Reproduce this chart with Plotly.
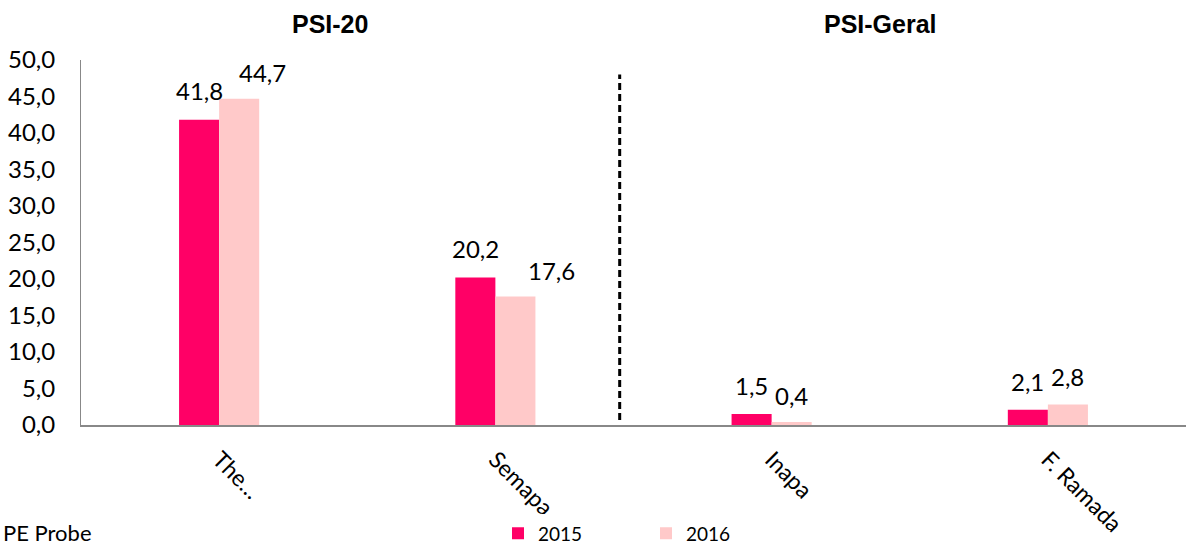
import plotly.graph_objects as go

categories = ["The…", "Semapa", "Inapa", "F. Ramada"]
values_2015 = [41.8, 20.2, 1.5, 2.1]
values_2016 = [44.7, 17.6, 0.4, 2.8]
series_names = ["2015", "2016"]
group_titles = ["PSI-20", "PSI-Geral"]
source_text = "PE Probe"

colors = ["#FF0066", "#FFC9C9"]
label_xshift = {"2015": [0, 0, 0, 0], "2016": [23, 36, 0, 0]}
label_yshift = {"2015": [13, 13, 12, 12], "2016": [10, 10, 10, 12]}

fig = go.Figure()
for name, vals, col in zip(series_names, [values_2015, values_2016], colors):
    fig.add_trace(go.Bar(x=categories, y=vals, name=name, marker_color=col,
                         marker_line_width=0, offsetgroup=name))

font_main = "Lato, Calibri, Carlito, sans-serif"
W, H = 1189, 548
L, R, T, B = 81, 3, 60, 123
PW = W - L - R

annotations = []
for idx, (name, vals) in enumerate(zip(series_names, [values_2015, values_2016])):
    off = -0.0725 if idx == 0 else 0.0725
    for i, v in enumerate(vals):
        annotations.append(dict(
            x=i + off, y=v, xref="x", yref="y", text=f"{v:.1f}".replace(".", ","),
            showarrow=False, yanchor="bottom", xshift=label_xshift[name][i],
            yshift=label_yshift[name][i], font=dict(size=24, color="#000", family=font_main)))

for title, px in zip(group_titles, [330, 880]):
    annotations.append(dict(x=(px - L) / PW, y=1.0, xref="paper", yref="paper", yshift=36,
                            xanchor="center", yanchor="middle", text="<b>" + title + "</b>",
                            showarrow=False,
                            font=dict(size=25, family="Liberation Sans, Arial", color="#000")))
annotations.append(dict(x=(1 - L) / PW, y=0, xref="paper", yref="paper", yshift=-107,
                        yanchor="middle", text=source_text, xanchor="left", showarrow=False,
                        font=dict(size=22, family=font_main, color="#000")))

fig.update_layout(
    width=W, height=H,
    margin=dict(l=L, r=R, t=T, b=B, autoexpand=False),
    plot_bgcolor="white", paper_bgcolor="white",
    separators=",.",
    barmode="group", bargap=0.71, bargroupgap=0,
    font=dict(family=font_main, size=24, color="#000"),
    xaxis=dict(showline=True, linecolor="#888", linewidth=2, tickangle=45, ticks="",
               tickfont=dict(size=23), showgrid=False, automargin=False, ticklabelstandoff=10),
    yaxis=dict(range=[0, 50], dtick=5, tickformat=".1f", showline=True, linecolor="#888",
               linewidth=1, ticks="", showgrid=False, zeroline=False, tickfont=dict(size=24),
               automargin=False, ticklabelstandoff=20),
    legend=dict(orientation="h", x=(498 - L) / PW, y=-0.245, yanchor="top", yref="paper",
                xanchor="left", font=dict(size=19), itemwidth=30, entrywidth=103,
                traceorder="normal"),
    annotations=annotations,
    shapes=[dict(type="line", xref="x", yref="y", x0=1.45, x1=1.45, y0=0.7, y1=48,
                 line=dict(color="black", width=3, dash="7px,4px"))],
)

fig.write_html("out.html", config={"displayModeBar": False},
               post_script="document.body.style.margin='0';")
